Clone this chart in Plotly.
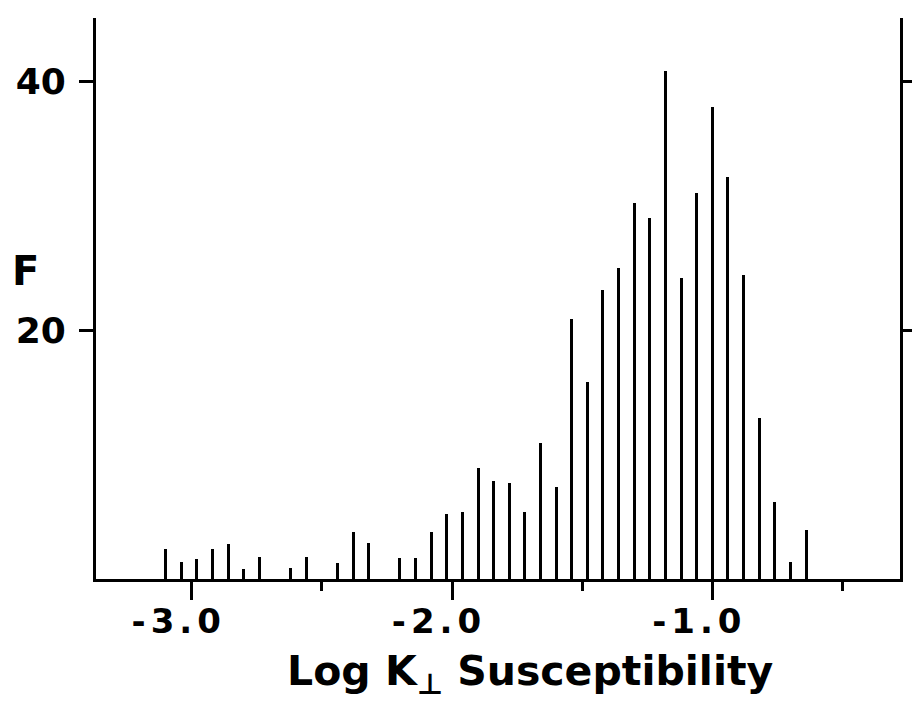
import plotly.graph_objects as go

# Histogram of log perpendicular susceptibility: bin centres and frequencies F
bin_centres = [-3.10, -3.04, -2.98, -2.92, -2.86, -2.80, -2.74, -2.68, -2.62, -2.56,
               -2.50, -2.44, -2.38, -2.32, -2.26, -2.20, -2.14, -2.08, -2.02, -1.96,
               -1.90, -1.84, -1.78, -1.72, -1.66, -1.60, -1.54, -1.48, -1.42, -1.36,
               -1.30, -1.24, -1.18, -1.12, -1.06, -1.00, -0.94, -0.88, -0.82, -0.76,
               -0.70, -0.64]
frequency = [2.4, 1.4, 1.6, 2.4, 2.8, 0.8, 1.8, 0.0, 0.9, 1.8,
             0.0, 1.3, 3.8, 2.9, 0.0, 1.7, 1.7, 3.8, 5.2, 5.4,
             8.9, 7.9, 7.7, 5.4, 10.9, 7.4, 20.9, 15.8, 23.2, 25.0,
             30.2, 29.0, 40.8, 24.2, 31.0, 37.9, 32.3, 24.4, 12.9, 6.2,
             1.4, 3.9]

x_tick_values = [-3.0, -2.0, -1.0]
x_tick_labels = ["-3.0", "-2.0", "-1.0"]
y_tick_values = [20, 40]
y_tick_labels = ["20", "40"]

FONT = "DejaVu Sans"


def spaced(s, px):
    return f'<span style="letter-spacing:{px}px">{s}</span>'


fig = go.Figure()
fig.add_trace(go.Bar(
    x=bin_centres,
    y=frequency,
    width=0.0115,
    marker=dict(color="black", line=dict(width=0)),
    showlegend=False,
))

fig.update_layout(
    width=912,
    height=701,
    margin=dict(l=96, r=12, t=18, b=122, autoexpand=False),
    paper_bgcolor="white",
    plot_bgcolor="white",
    font=dict(family=FONT, color="black", weight="bold"),
    bargap=0,
)

fig.update_xaxes(
    range=[-3.3677, -0.2789],
    showline=True, linewidth=3, linecolor="black", mirror=False,
    showgrid=False, zeroline=False,
    ticks="outside", ticklen=18, tickwidth=3, tickcolor="black",
    tickvals=x_tick_values,
    ticktext=[spaced(t, 5) for t in x_tick_labels],
    tickfont=dict(family=FONT, size=34, color="black", weight="bold"),
    ticklabelshift=-13,
    ticklabelstandoff=-8,
    minor=dict(ticks="outside", dtick=0.5, tick0=0, ticklen=9,
               tickwidth=3, tickcolor="black", showgrid=False),
)

fig.update_yaxes(
    range=[0, 45.06],
    showline=True, linewidth=3, linecolor="black", mirror="ticks",
    showgrid=False, zeroline=False,
    ticks="outside", ticklen=14, tickwidth=3, tickcolor="black",
    tickvals=y_tick_values,
    ticktext=y_tick_labels,
    tickfont=dict(family=FONT, size=36, color="black", weight="bold"),
    ticklabelstandoff=6,
)

# axis titles
fig.add_annotation(
    text="F", xref="paper", yref="paper",
    x=-0.0883, y=0.549, xanchor="center", yanchor="middle",
    showarrow=False,
    font=dict(family=FONT, size=40, color="black", weight="bold"),
)
fig.add_annotation(
    text="Log K<sub>⊥</sub> Susceptibility", xref="paper", yref="paper",
    x=0.54, y=-0.17, xanchor="center", yanchor="middle",
    showarrow=False,
    font=dict(family=FONT, size=41, color="black", weight="bold"),
)

fig.write_html("out.html")
